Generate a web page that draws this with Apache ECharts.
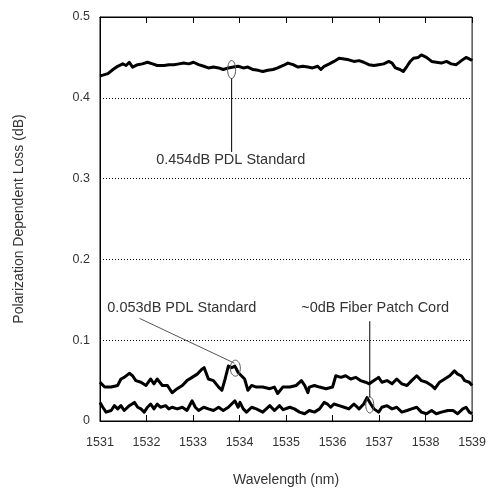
<!DOCTYPE html>
<html>
<head>
<meta charset="utf-8">
<script src="https://cdn.jsdelivr.net/npm/echarts@6/dist/echarts.min.js"></script>
<style>html,body{margin:0;padding:0;background:#fff;}#c{width:489px;height:492px;}</style>
</head>
<body>
<div id="c"></div>
<script>
// 0.454 dB PDL standard
const wlTop = [1531.00,1531.06,1531.17,1531.28,1531.38,1531.49,1531.56,1531.63,1531.70,1531.81,1531.91,1532.02,1532.13,1532.23,1532.38,1532.48,1532.59,1532.70,1532.80,1532.91,1533.01,1533.12,1533.23,1533.33,1533.44,1533.55,1533.65,1533.76,1533.87,1533.97,1534.08,1534.18,1534.29,1534.40,1534.50,1534.61,1534.72,1534.82,1534.94,1535.04,1535.15,1535.26,1535.36,1535.47,1535.57,1535.68,1535.75,1535.82,1535.93,1536.03,1536.14,1536.25,1536.35,1536.46,1536.57,1536.67,1536.78,1536.89,1536.99,1537.10,1537.21,1537.28,1537.35,1537.45,1537.52,1537.60,1537.67,1537.74,1537.84,1537.91,1538.02,1538.13,1538.23,1538.34,1538.45,1538.55,1538.66,1538.77,1538.87,1538.98,1539.00];
const pdlTop = [0.427,0.428,0.430,0.435,0.439,0.442,0.440,0.444,0.438,0.441,0.442,0.444,0.442,0.440,0.440,0.441,0.441,0.442,0.443,0.442,0.444,0.441,0.439,0.437,0.438,0.437,0.435,0.437,0.438,0.439,0.437,0.438,0.435,0.434,0.4325,0.434,0.435,0.437,0.440,0.443,0.441,0.438,0.439,0.438,0.437,0.439,0.435,0.439,0.442,0.445,0.449,0.448,0.447,0.445,0.446,0.444,0.441,0.440,0.441,0.442,0.445,0.443,0.437,0.435,0.4325,0.439,0.445,0.449,0.450,0.453,0.450,0.445,0.444,0.443,0.445,0.442,0.441,0.446,0.450,0.447,0.446];

// 0.053 dB PDL standard
const wlMid = [1531.00,1531.10,1531.24,1531.38,1531.45,1531.52,1531.63,1531.70,1531.77,1531.88,1531.99,1532.09,1532.16,1532.23,1532.34,1532.45,1532.55,1532.66,1532.77,1532.87,1532.98,1533.09,1533.19,1533.24,1533.33,1533.44,1533.55,1533.62,1533.69,1533.76,1533.83,1533.90,1533.97,1534.04,1534.11,1534.18,1534.26,1534.36,1534.50,1534.65,1534.75,1534.82,1534.93,1535.08,1535.22,1535.33,1535.40,1535.47,1535.50,1535.61,1535.72,1535.86,1536.00,1536.07,1536.18,1536.28,1536.39,1536.50,1536.60,1536.71,1536.79,1536.89,1536.99,1537.06,1537.17,1537.28,1537.38,1537.49,1537.60,1537.70,1537.81,1537.91,1538.02,1538.13,1538.20,1538.30,1538.41,1538.52,1538.62,1538.69,1538.77,1538.84,1538.94,1539.00];
const pdlMid = [0.048,0.042,0.042,0.044,0.052,0.054,0.059,0.056,0.050,0.048,0.044,0.052,0.046,0.052,0.044,0.044,0.035,0.040,0.044,0.050,0.054,0.058,0.064,0.066,0.052,0.050,0.042,0.038,0.052,0.068,0.066,0.068,0.060,0.056,0.052,0.038,0.044,0.042,0.042,0.040,0.042,0.034,0.042,0.042,0.044,0.050,0.044,0.035,0.042,0.044,0.042,0.040,0.042,0.056,0.054,0.056,0.052,0.054,0.050,0.048,0.046,0.050,0.054,0.048,0.050,0.046,0.052,0.046,0.044,0.050,0.056,0.050,0.048,0.044,0.040,0.048,0.052,0.056,0.062,0.058,0.056,0.050,0.048,0.044];

// ~0 dB fiber patch cord
const wlLow = [1531.00,1531.06,1531.13,1531.24,1531.31,1531.38,1531.45,1531.52,1531.63,1531.74,1531.81,1531.88,1531.95,1532.02,1532.09,1532.16,1532.23,1532.30,1532.41,1532.48,1532.55,1532.66,1532.77,1532.87,1532.98,1533.05,1533.12,1533.23,1533.33,1533.44,1533.55,1533.65,1533.76,1533.83,1533.90,1533.97,1534.01,1534.08,1534.15,1534.26,1534.36,1534.50,1534.65,1534.75,1534.86,1534.94,1535.08,1535.18,1535.29,1535.40,1535.50,1535.61,1535.72,1535.82,1535.89,1535.96,1536.03,1536.14,1536.25,1536.35,1536.46,1536.57,1536.67,1536.74,1536.82,1536.89,1536.99,1537.06,1537.17,1537.28,1537.38,1537.49,1537.60,1537.70,1537.81,1537.91,1538.02,1538.13,1538.23,1538.34,1538.48,1538.59,1538.69,1538.80,1538.87,1538.94,1539.00];
const pdlLow = [0.023,0.017,0.011,0.013,0.019,0.015,0.019,0.013,0.019,0.023,0.017,0.015,0.011,0.017,0.021,0.015,0.021,0.017,0.019,0.015,0.017,0.015,0.017,0.013,0.025,0.017,0.013,0.017,0.015,0.013,0.017,0.013,0.017,0.021,0.025,0.017,0.023,0.015,0.011,0.017,0.015,0.011,0.019,0.013,0.019,0.014,0.017,0.015,0.011,0.009,0.013,0.011,0.015,0.023,0.021,0.017,0.021,0.019,0.017,0.015,0.021,0.015,0.021,0.029,0.021,0.015,0.011,0.017,0.019,0.015,0.017,0.011,0.013,0.015,0.017,0.011,0.009,0.013,0.009,0.011,0.013,0.013,0.009,0.015,0.017,0.011,0.009];

const xMin = 1531, xMax = 1539, xStep = 1;
const yMin = 0, yMax = 0.5, yStep = 0.1;

const labels = {
  top: '0.454dB PDL Standard',
  mid: '0.053dB PDL Standard',
  low: '~0dB Fiber Patch Cord'
};

const zip = (xs, ys) => xs.map((x, i) => [x, ys[i]]);
const FONT = 'Arial, "Liberation Sans", sans-serif';
const TXT = '#333';

const chart = echarts.init(document.getElementById('c'), null, {renderer: 'canvas'});
const lineSeries = (name, data) => ({
  name, type: 'line', data, showSymbol: false, symbol: 'none',
  lineStyle: {color: '#000', width: 3, join: 'round'}, z: 3, animation: false
});

chart.setOption({
  animation: false,
  backgroundColor: '#fff',
  grid: {left: 100, right: 13, top: 17, bottom: 70, show: true, borderColor: '#000', borderWidth: 1, backgroundColor: 'transparent'},
  xAxis: [{
    type: 'value', min: xMin, max: xMax, interval: xStep,
    name: 'Wavelength (nm)', nameLocation: 'middle', nameGap: 52,
    nameTextStyle: {fontFamily: FONT, fontSize: 14, color: TXT},
    axisLine: {show: true, lineStyle: {color: '#000', width: 1}},
    axisTick: {show: true, inside: true, length: 6, lineStyle: {color: '#000'}},
    axisLabel: {fontFamily: FONT, fontSize: 12.5, color: TXT, margin: 15, formatter: v => String(v)},
    splitLine: {show: false}
  }, {
    type: 'value', position: 'top', min: xMin, max: xMax, interval: xStep,
    axisLine: {show: true, lineStyle: {color: '#000', width: 1}},
    axisTick: {show: true, inside: true, length: 6, lineStyle: {color: '#000'}},
    axisLabel: {show: false}, splitLine: {show: false}
  }],
  yAxis: {
    type: 'value', min: yMin, max: yMax, interval: yStep,
    name: 'Polarization Dependent Loss (dB)', nameLocation: 'middle', nameGap: 74,
    nameTextStyle: {fontFamily: FONT, fontSize: 14, color: TXT},
    axisLine: {show: true, lineStyle: {color: '#000', width: 1}},
    axisTick: {show: false},
    axisLabel: {fontFamily: FONT, fontSize: 12.5, color: TXT, margin: 10,
      formatter: v => v === 0 ? '0' : v.toFixed(1)},
    splitLine: {show: true, lineStyle: {color: '#000', width: 1, type: [1, 2]}}
  },
  series: [
    lineSeries('top', zip(wlTop, pdlTop)),
    lineSeries('mid', zip(wlMid, pdlMid)),
    lineSeries('low', zip(wlLow, pdlLow))
  ]
});

// annotations anchored in data coordinates
const P = (x, y) => chart.convertToPixel({gridIndex: 0}, [x, y]);
const annots = [
  {ell: [1533.83, 0.435, 4, 9], line: [[1533.83, 0.424], [1533.83, 0.333]], lineColor: '#000', text: [1533.81, 0.3235, labels.top]},
  {ell: [1533.91, 0.0654, 5, 8], line: [[1531.85, 0.127], [1533.89, 0.0716]], lineColor: '#555', text: [1532.76, 0.1395, labels.mid]},
  {ell: [1536.80, 0.0198, 4, 8], line: [[1536.80, 0.1235], [1536.80, 0.0296]], lineColor: '#000', text: [1536.915, 0.1395, labels.low]}
];
const g = [];
annots.forEach(a => {
  const c = P(a.ell[0], a.ell[1]);
  g.push({type: 'ellipse', shape: {cx: c[0], cy: c[1], rx: a.ell[2], ry: a.ell[3]},
    style: {fill: null, stroke: '#555', lineWidth: 1}, z: 10});
  const p1 = P(a.line[0][0], a.line[0][1]), p2 = P(a.line[1][0], a.line[1][1]);
  g.push({type: 'line', shape: {x1: p1[0], y1: p1[1], x2: p2[0], y2: p2[1]},
    style: {stroke: a.lineColor, lineWidth: 1}, z: 10});
  const t = P(a.text[0], a.text[1]);
  g.push({type: 'text', x: t[0], y: t[1], style: {text: a.text[2], font: '14.5px ' + FONT,
    fill: TXT, textAlign: 'center', textVerticalAlign: 'middle'}, z: 10});
});
chart.setOption({graphic: g});
</script>
</body>
</html>
